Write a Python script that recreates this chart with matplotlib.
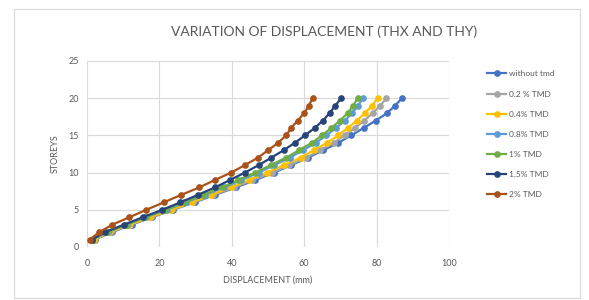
import matplotlib
matplotlib.use("Agg")
import matplotlib.pyplot as plt
from matplotlib.patches import Rectangle

storeys = list(range(1, 21))
labels = ["without tmd", "0.2 % TMD", "0.4% TMD", "0.8% TMD", "1% TMD", "1.5% TMD", "2% TMD"]
without_tmd = [2.1, 6.9, 12.3, 18.0, 23.7, 29.7, 35.3, 41.1, 46.5, 51.7, 56.4, 61.1, 65.2, 69.4, 73.0, 76.4, 79.8, 82.9, 85.1, 87.0]
tmd_02 = [1.9, 6.5, 12.0, 17.7, 23.5, 29.4, 34.9, 40.5, 45.7, 51.2, 55.9, 60.5, 64.4, 68.1, 71.2, 74.0, 76.6, 78.9, 81.0, 82.7]
tmd_04 = [1.9, 6.2, 11.7, 17.4, 23.2, 28.9, 34.3, 39.8, 44.7, 49.8, 54.3, 59.0, 62.6, 66.3, 69.4, 72.0, 74.6, 76.8, 78.7, 80.3]
tmd_08 = [1.4, 5.7, 11.0, 16.3, 22.0, 27.3, 32.6, 37.9, 42.6, 47.4, 51.7, 56.0, 59.6, 63.2, 66.1, 68.8, 71.2, 73.3, 74.9, 76.2]
tmd_1 = [1.3, 5.5, 10.7, 15.9, 21.6, 26.8, 32.0, 37.2, 41.8, 46.5, 50.7, 55.0, 58.5, 62.1, 64.9, 67.5, 69.9, 72.0, 73.5, 74.8]
tmd_15 = [1.3, 5.0, 10.2, 15.4, 20.8, 25.8, 30.6, 35.3, 39.5, 43.6, 47.4, 50.9, 54.3, 57.4, 60.2, 62.9, 65.2, 67.0, 68.6, 70.2]
tmd_2 = [0.8, 3.4, 7.0, 11.7, 16.4, 21.2, 26.0, 31.0, 35.3, 39.8, 43.6, 47.2, 50.0, 52.8, 55.0, 56.4, 58.2, 60.0, 61.3, 62.3]
series = [without_tmd, tmd_02, tmd_04, tmd_08, tmd_1, tmd_15, tmd_2]
colors = ["#4472C4", "#A5A5A5", "#FFC000", "#5B9BD5", "#70AD47", "#264478", "#A9521A"]

plt.rcParams['font.family'] = ['Lato', 'DejaVu Sans']
txt = "#595959"

fig = plt.figure(figsize=(5.89, 3.0), dpi=100)
fig.patches.append(Rectangle((14/589, 1-298/300), (580-14)/589, (298-9)/300,
                             transform=fig.transFigure, fill=False, edgecolor="#D9D9D9", lw=0.8))
ax = fig.add_axes([87/589, 1-247/300, (449-87)/589, (247-61)/300])

for s, lab, c in zip(series, labels, colors):
    ax.plot(s, storeys, color=c, lw=1.6, marker='o', markersize=3.8, label=lab)

ax.set_xlim(0, 100)
ax.set_ylim(0, 25)
ax.set_xticks(range(0, 101, 20))
ax.set_yticks(range(0, 26, 5))
ax.grid(True, color="#D9D9D9", lw=0.8)
ax.set_axisbelow(True)
for sp in ax.spines.values():
    sp.set_visible(False)
ax.tick_params(axis='x', length=0, labelsize=6.5, labelcolor=txt, pad=9)
ax.tick_params(axis='y', length=0, labelsize=6.5, labelcolor=txt, pad=6)
ax.set_xlabel("DISPLACEMENT (mm)", fontsize=6.5, color=txt, labelpad=5)
ax.set_ylabel("STOREYS", fontsize=6.5, color=txt, labelpad=6)
fig.text(324/589, 1-32/300, "VARIATION OF DISPLACEMENT (THX AND THY)", ha='center', va='center',
         fontsize=10, color=txt)

leg = ax.legend(loc='upper left', bbox_to_anchor=(484/589, 1-67/300), bbox_transform=fig.transFigure,
                frameon=False, fontsize=6, labelcolor=txt, handlelength=2.2, labelspacing=1.58,
                handletextpad=0.4, borderaxespad=0)

fig.savefig("out.png", dpi=100)
